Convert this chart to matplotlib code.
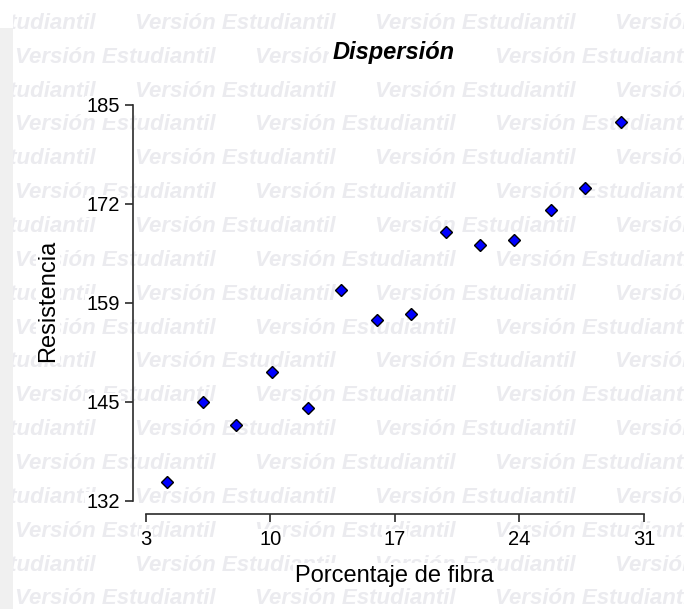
import matplotlib
matplotlib.use("Agg")
import matplotlib.pyplot as plt
from matplotlib.patches import Rectangle

# ========== datos ==========
fibra = [4.2, 6.2, 8.1, 10.1, 12.1, 14.0, 16.0, 17.9, 19.9, 21.8, 23.7, 25.8, 27.7, 29.7]
resistencia = [134.5, 145.2, 142.2, 149.2, 144.4, 160.2, 156.2, 157.0,
               168.0, 166.2, 166.9, 170.9, 173.9, 182.7]

x_ticks = [3, 10, 17, 24, 31]
y_ticks = [132, 145.25, 158.5, 171.75, 185]
y_tick_labels = ['132', '145', '159', '172', '185']

titulo = 'Dispersión'
x_label = 'Porcentaje de fibra'
y_label = 'Resistencia'
marca = 'Versión Estudiantil'
# ===========================

W, H = 684, 609
plt.rcParams['font.family'] = ['Liberation Sans', 'DejaVu Sans']

fig = plt.figure(figsize=(W / 100, H / 100), dpi=100)
fig.patch.set_facecolor('white')

# franja gris a la izquierda
fig.patches.append(Rectangle((0, 0), 13 / W, 1 - 28 / H, transform=fig.transFigure,
                             facecolor='#f0f0f0', edgecolor='none', zorder=0))

# marca de agua (mosaico)
bg = fig.add_axes([13 / W, 0, 1 - 13 / W, 1])
bg.set_xlim(13, W)
bg.set_ylim(H, 0)
bg.axis('off')
bg.set_zorder(-1)
for k in range(18):
    y = 23.3 + 33.86 * k
    x0 = 15 if k % 2 else -105
    for j in range(4):
        bg.text(x0 + 240 * j, y, marca, fontsize=16, fontweight='bold', style='italic',
                color='#ebebef', ha='left', va='center', clip_on=True)

# grafico
left, right = 145.7, 644.0
top, bottom = 105.0, 501.0
ax = fig.add_axes([left / W, 1 - bottom / H, (right - left) / W, (bottom - top) / H])
ax.set_facecolor('none')
ax.plot(fibra, resistencia, linestyle='none', marker='D', markersize=6.4,
        markerfacecolor='#0000ff', markeredgecolor='black', markeredgewidth=1.0,
        clip_on=False, zorder=3)

ax.set_xlim(3, 31)
ax.set_ylim(132, 185)
ax.set_xticks(x_ticks)
ax.set_xticklabels([str(v) for v in x_ticks])
ax.set_yticks(y_ticks)
ax.set_yticklabels(y_tick_labels)

for s in ['top', 'right']:
    ax.spines[s].set_visible(False)
ax.spines['left'].set_position(('outward', 9))
ax.spines['bottom'].set_position(('outward', 9))
for s in ['left', 'bottom']:
    ax.spines[s].set_linewidth(1.2)
    ax.spines[s].set_color('#2b2b2b')

ax.tick_params(axis='both', direction='out', length=6, width=1.2, color='#2b2b2b',
               labelsize=14.5, labelcolor='black')
ax.tick_params(axis='y', pad=3.5)
ax.tick_params(axis='x', pad=6)

caja = dict(facecolor='white', edgecolor='none', pad=1)
for lab in ax.get_xticklabels() + ax.get_yticklabels():
    lab.set_bbox(caja)

fig.text(394 / W, 1 - 59.3 / H, titulo, fontsize=17, fontweight='bold', style='italic',
         ha='center', va='baseline', bbox=dict(facecolor='white', edgecolor='none', pad=3))
fig.text(394 / W, 1 - 581.7 / H, x_label, fontsize=17, ha='center', va='baseline',
         bbox=caja)
fig.text(48 / W, 1 - 300.5 / H, y_label, fontsize=17, rotation=90, ha='center',
         va='center', bbox=caja)

fig.savefig('out.png', dpi=100, facecolor='white')
